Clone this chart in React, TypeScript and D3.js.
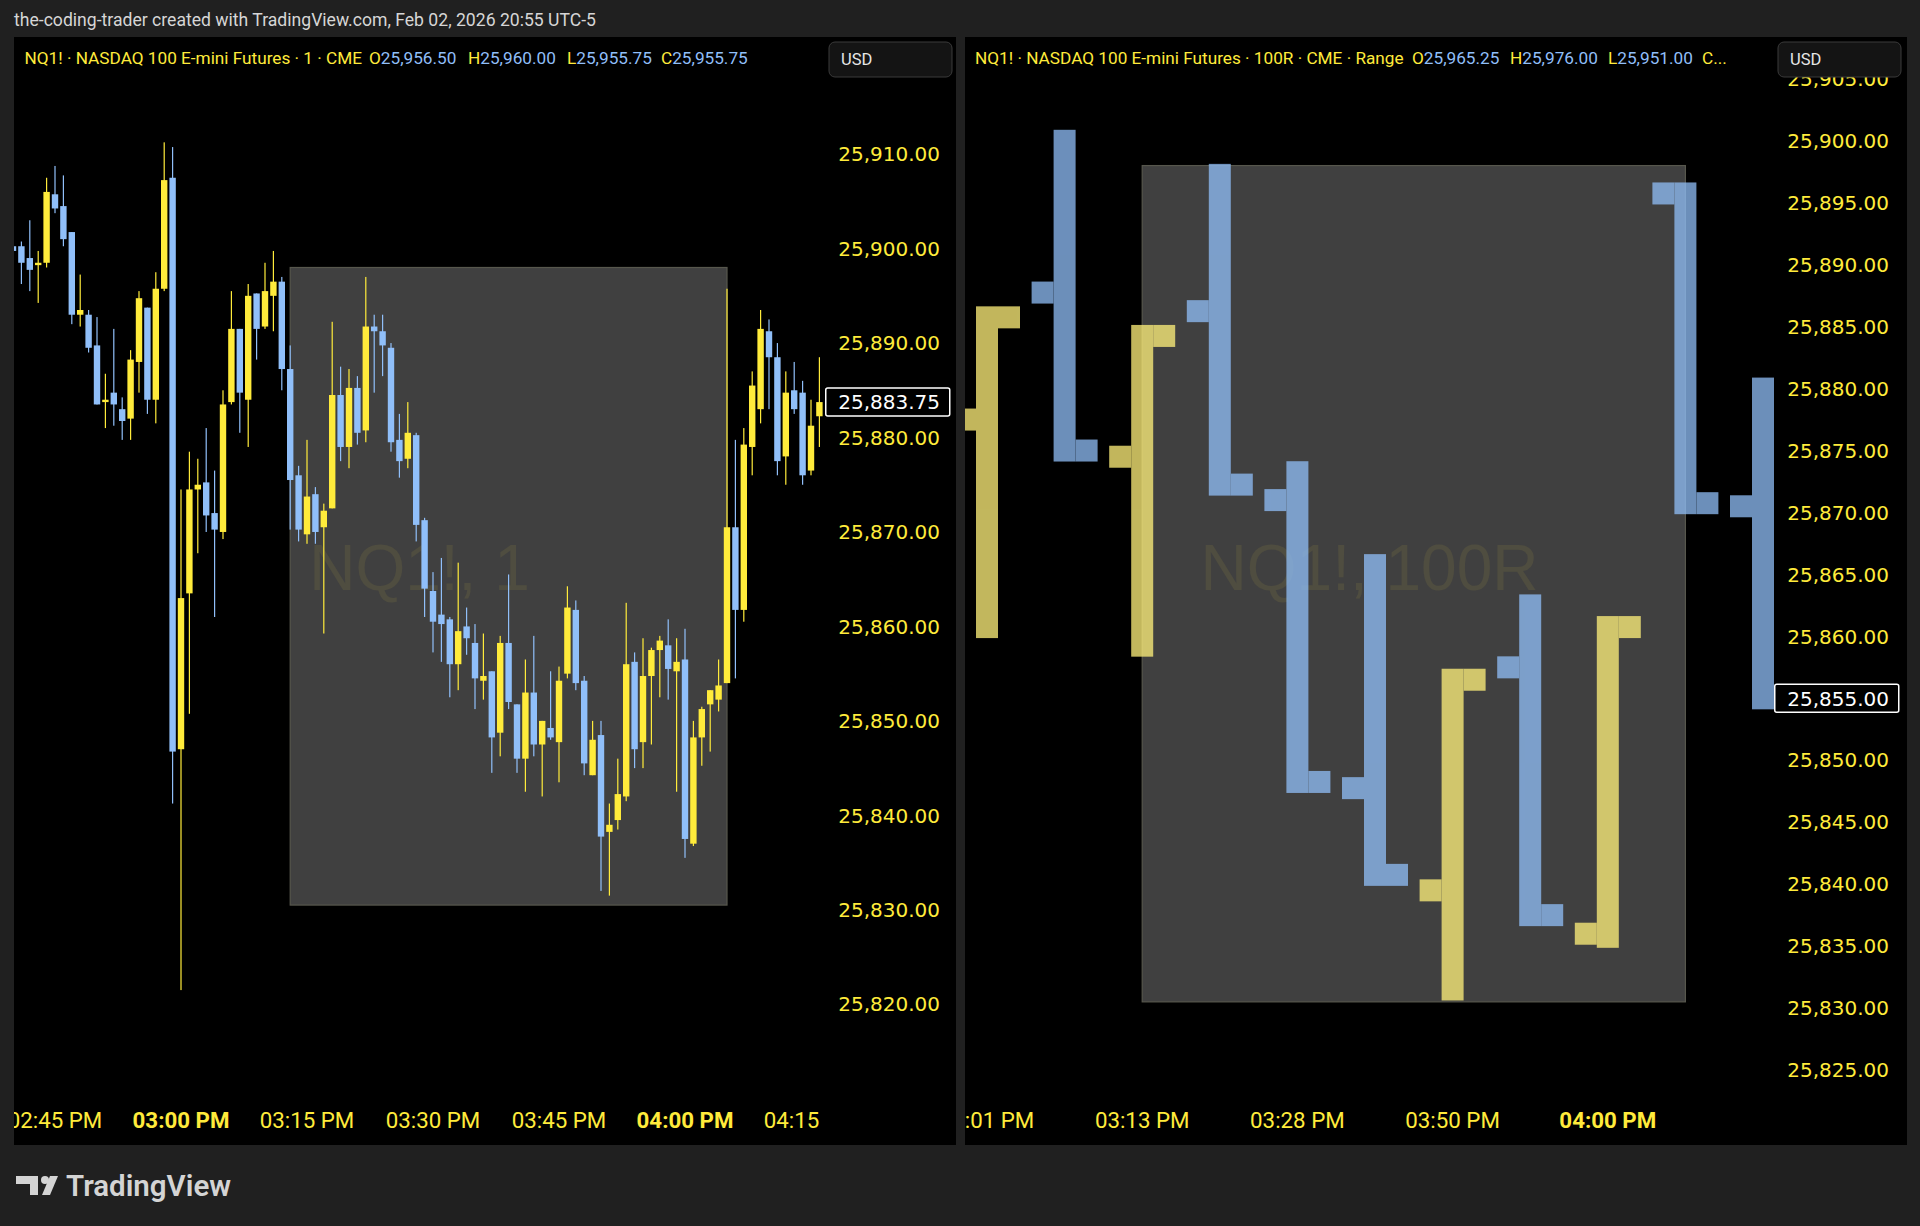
import React from 'react';
import * as d3 from 'd3';

// ---------------- DATA ----------------
// Left chart: 1-minute candles, minute offsets relative to 03:00 PM
const leftStartMinute = -20;
const leftOpen = [25900.25,25900.25,25899,25898.25,25898.5,25905.75,25904.5,25901.75,25893,25893,25889.75,25883.75,25884.75,25883,25882,25888,25893.75,25884,25895.75,25907.5,
  25847,25863.5,25874.5,25875.25,25872,25870,25883.75,25891.5,25884,25895.25,25891.75,25895,25896.5,25887.25,25876,25869.75,25874,25870.5,25872.5,25884.5,
  25879,25885.25,25880.75,25891.75,25891.25,25889.5,25879.75,25877.75,25880.25,25871.25,25863.75,25861.25,25860.75,25856,25860,25858.25,25854.25,25855.25,25848.75,25858.25,
  25851.75,25846,25853,25847.5,25849.25,25847.75,25855,25861.75,25854.25,25844.25,25848.5,25838.25,25839.5,25842,25856.25,25847.75,25854.75,25857.5,25858,25855.25,
  25856.5,25837,25848.25,25851.75,25852.25,25854,25870.5,25861.75,25879,25883,25891.25,25888.5,25878,25885,25884.75,25876.5,25882.25];
const leftHigh = [25902.5,25900.75,25903,25899.75,25907.5,25908.75,25907.75,25901.75,25897.25,25893.5,25892.75,25886.75,25891.5,25884.25,25889.25,25895.5,25893.75,25897.5,25911.25,25910.75,
  25874.5,25878.5,25877.75,25881,25876.5,25885,25895.5,25891.5,25896.25,25895.25,25898.5,25899.75,25897,25889.75,25877,25879.75,25874.75,25873,25892.25,25887.5,
  25887.25,25886.5,25897,25893,25893,25890,25882.5,25883.75,25880.5,25871.5,25865.75,25867.25,25861,25866.75,25862,25860.25,25859.25,25855.25,25859,25865.5,
  25851.75,25856.5,25859,25850,25855.25,25855.75,25864.25,25862.75,25854.75,25850,25850,25841.25,25846,25862.5,25857.25,25858.75,25857.75,25859,25860.75,25858.75,
  25859.75,25850,25851.5,25853.25,25856.5,25895.75,25879.75,25881,25887,25893.5,25892.5,25890,25887,25888,25886,25884,25888.5];
const leftLow = [25894.25,25896.25,25895.5,25894.25,25898,25903.75,25900.25,25892,25891.75,25889,25883.5,25881,25881.25,25879.75,25879.75,25884.75,25882.5,25881.5,25895.5,25841.25,
  25821.5,25850.75,25867.75,25870,25861,25869.25,25883.5,25880.5,25879,25888.25,25891.5,25891.25,25885,25870.25,25869,25868.75,25868.75,25859.25,25872.5,25877.5,
  25876.75,25879.25,25879.5,25884.75,25886.5,25878.5,25875.75,25876.75,25869,25861,25857.25,25856.25,25852.5,25853.25,25857,25851.25,25852.25,25844.5,25846.25,25851.25,
  25844.5,25842.5,25846.25,25842,25848,25843.5,25854.5,25853.25,25844.25,25844.25,25832,25831.5,25838.5,25841.5,25845,25845,25847.5,25852.5,25852.25,25842.5,
  25835.5,25836.75,25845.25,25846.75,25851,25854,25854.5,25860.5,25876,25881.5,25883,25876,25875,25882.5,25875,25876,25879];
const leftClose = [25899.75,25898.5,25897.75,25898.5,25906,25904.25,25901,25893,25893.5,25889.5,25883.5,25884,25883.5,25881.75,25888.25,25894.75,25884,25895.75,25907.25,25846.75,
  25863,25874.5,25875,25871.75,25870.25,25883.5,25891.5,25884.75,25895,25891.5,25895.5,25896.5,25887.25,25875.5,25870.25,25873.75,25870,25872.25,25884.5,25879,
  25885.25,25880.5,25891.75,25891.25,25889.75,25879.5,25877.5,25880.5,25870.75,25864,25860.5,25860.25,25856,25859.5,25858.75,25854.5,25854.75,25848.25,25858.25,25852,
  25846,25853,25847.5,25850,25848.25,25854.25,25862,25854,25845.5,25848,25837.75,25839,25842.25,25856,25847,25854.75,25857.5,25858.5,25855.5,25856.25,
  25837.5,25848.25,25851.25,25853.25,25853.75,25870.5,25861.75,25879.25,25885.5,25891.5,25888.5,25877.5,25884.75,25883,25876,25881.25,25883.75];
const leftPriceTicks = [25910, 25900, 25890, 25880, 25870, 25860, 25850, 25840, 25830, 25820];
const leftTimeTicks = [-15, 0, 15, 30, 45, 60, 75];
const leftTimeLabels = ['02:45 PM', '03:00 PM', '03:15 PM', '03:30 PM', '03:45 PM', '04:00 PM', '04:15 PM'];
const leftTimeBold = [false, true, false, false, false, true, false];
const leftLastPrice = 25883.75;
const leftBoxMinutes = [13, 65];

// Right chart: 100R range bars
const rangeOpen = [25877.5, 25887.75, 25874.5, 25886.25, 25871, 25847.75, 25839.5, 25857.5, 25836, 25895.75, 25870.5];
const rangeHigh = [25885.75, 25900, 25884.25, 25897.25, 25873.25, 25865.75, 25856.5, 25862.5, 25860.75, 25895.75, 25880];
const rangeLow = [25860.75, 25875, 25859.25, 25872.25, 25848.25, 25840.75, 25831.5, 25837.5, 25835.75, 25870.75, 25855];
const rangeClose = [25885.75, 25875, 25884.25, 25872.25, 25848.25, 25840.75, 25856.5, 25837.5, 25860.75, 25870.75, 25855];
const rightPriceTicks = [25905, 25900, 25895, 25890, 25885, 25880, 25875, 25870, 25865, 25860, 25855, 25850, 25845, 25840, 25835, 25830, 25825];
const rightTimeTicks = [0, 2, 4, 6, 8];
const rightTimeLabels = ['03:01 PM', '03:13 PM', '03:28 PM', '03:50 PM', '04:00 PM'];
const rightTimeBold = [false, false, false, false, true];
const rightLastPrice = 25855.0;
const rightBoxBars = [2, 9];

// Shared drawing (rectangle) price range
const boxPrices = [25898, 25830.5];

// ---------------- STYLE ----------------
const BG = '#202020';
const YELLOW = '#ffeb3b';
const BLUE = '#90bff9';
const RANGE_YELLOW = '#fff07a';
const UI_FONT = 'Roboto, "Noto Sans", sans-serif';
const AXIS_FONT = '"DejaVu Sans", sans-serif';
const fmt = d3.format(',.2f');

const PANEL_TOP = 37;
const PANEL_BOTTOM = 1145;
const PLOT_BOTTOM = 1092;
const L = { x0: 14, plotRight: 825, x1: 956 };
const R = { x0: 965, plotRight: 1774, x1: 1907 };

function UsdButton({ x }: { x: number }) {
  return (
    <g>
      <rect x={x} y={42} width={123} height={35} rx={6} fill="#141414" stroke="#3a3a3a" strokeWidth={1} />
      <text x={x + 12} y={64.5} fontFamily={UI_FONT} fontSize={16.5} fill="#e6e6e6">USD</text>
    </g>
  );
}

function LastPriceBox({ x, y, value, textRight }: { x: number; y: number; value: number; textRight: number }) {
  return (
    <g>
      <rect x={x + 0.75} y={y - 14} width={124} height={28} rx={2} fill="#000" stroke="#ffffff" strokeWidth={1.5} />
      <text x={textRight} y={y} dy="0.36em" textAnchor="end" fontFamily={AXIS_FONT} fontSize={20} fill="#ffffff">{fmt(value)}</text>
    </g>
  );
}

export default function App() {
  const yL = d3.scaleLinear().domain([25900, 25830]).range([248.6, 909.8]);
  const xL = d3.scaleLinear().domain([0, 60]).range([181, 685]);
  const yR = d3.scaleLinear().domain([25900, 25825]).range([140.8, 1070]);
  const xR = d3.scaleLinear().domain([0, 8]).range([987, 1607.8]);

  const candleW = 6.4;
  const t = 22; // range bar thickness

  const leftCandles = leftOpen.map((o, k) => ({
    m: leftStartMinute + k, o, h: leftHigh[k], l: leftLow[k], c: leftClose[k],
  }));
  const rangeBars = rangeOpen.map((o, k) => ({
    k, o, h: rangeHigh[k], l: rangeLow[k], c: rangeClose[k],
  }));

  const HF = 17.2; // header font size

  return (
    <svg width={1920} height={1226} viewBox="0 0 1920 1226"
      style={{ position: 'absolute', left: 0, top: 0, display: 'block' }}>
      <defs>
        <clipPath id="clipL"><rect x={L.x0} y={PANEL_TOP} width={L.plotRight - L.x0} height={PLOT_BOTTOM - PANEL_TOP} /></clipPath>
        <clipPath id="clipLT"><rect x={L.x0} y={PLOT_BOTTOM} width={L.plotRight - L.x0} height={PANEL_BOTTOM - PLOT_BOTTOM} /></clipPath>
        <clipPath id="clipR"><rect x={R.x0} y={PANEL_TOP} width={R.plotRight - R.x0} height={PLOT_BOTTOM - PANEL_TOP} /></clipPath>
        <clipPath id="clipRT"><rect x={R.x0} y={PLOT_BOTTOM} width={R.plotRight - R.x0} height={PANEL_BOTTOM - PLOT_BOTTOM} /></clipPath>
        <clipPath id="clipRA"><rect x={R.plotRight} y={PANEL_TOP} width={R.x1 - R.plotRight} height={PLOT_BOTTOM - PANEL_TOP} /></clipPath>
      </defs>
      <rect x={0} y={0} width={1920} height={1226} fill={BG} />

      <text x={14} y={26} fontFamily={UI_FONT} fontSize={17.6} fill="#d6d6d6">
        the-coding-trader created with TradingView.com, Feb 02, 2026 20:55 UTC-5
      </text>

      {/* ---------- LEFT PANEL ---------- */}
      <rect x={L.x0} y={PANEL_TOP} width={L.x1 - L.x0} height={PANEL_BOTTOM - PANEL_TOP} fill="#000" />
      <g clipPath="url(#clipL)">
        <rect x={xL(leftBoxMinutes[0])} y={yL(boxPrices[0])}
          width={xL(leftBoxMinutes[1]) - xL(leftBoxMinutes[0])}
          height={yL(boxPrices[1]) - yL(boxPrices[0])}
          fill="#404040" stroke="#57574d" strokeWidth={1.2} />
        <text x={(L.x0 + L.plotRight) / 2} y={590} textAnchor="middle" fontFamily='"Liberation Sans", Arial, sans-serif'
          fontSize={64} fill={YELLOW} fillOpacity={0.08}>NQ1!, 1</text>
        {leftCandles.map((d) => {
          const cx = xL(d.m);
          const col = d.c >= d.o ? YELLOW : BLUE;
          const top = yL(Math.max(d.o, d.c));
          const bot = yL(Math.min(d.o, d.c));
          return (
            <g key={d.m}>
              <rect x={cx - 0.6} y={yL(d.h)} width={1.2} height={yL(d.l) - yL(d.h)} fill={col} />
              <rect x={cx - candleW / 2} y={top} width={candleW} height={Math.max(1.5, bot - top)} fill={col} />
            </g>
          );
        })}
      </g>
      {/* left price axis */}
      {leftPriceTicks.filter((p) => yL(p) > 70 && yL(p) < PLOT_BOTTOM - 12).map((p) => (
        <text key={p} x={940} y={yL(p)} dy="0.36em" textAnchor="end" fontFamily={AXIS_FONT} fontSize={20} fill={YELLOW}>{fmt(p)}</text>
      ))}
      <LastPriceBox x={L.plotRight} y={yL(leftLastPrice)} value={leftLastPrice} textRight={940} />
      {/* left time axis */}
      <g clipPath="url(#clipLT)">
        {leftTimeTicks.map((m, k) => (
          <text key={m} x={xL(m)} y={1128} textAnchor="middle" fontFamily={UI_FONT} fontSize={22.3}
            fontWeight={leftTimeBold[k] ? 700 : 400} fill={YELLOW}>{leftTimeLabels[k]}</text>
        ))}
      </g>
      {/* left header */}
      <g fontFamily={UI_FONT} fontSize={HF}>
        <text x={24.5} y={63.5} fill={YELLOW}>NQ1! · NASDAQ 100 E-mini Futures · 1 · CME</text>
        <text x={369} y={63.5}><tspan fill={YELLOW}>O</tspan><tspan fill={BLUE}>25,956.50</tspan></text>
        <text x={468} y={63.5}><tspan fill={YELLOW}>H</tspan><tspan fill={BLUE}>25,960.00</tspan></text>
        <text x={567} y={63.5}><tspan fill={YELLOW}>L</tspan><tspan fill={BLUE}>25,955.75</tspan></text>
        <text x={661} y={63.5}><tspan fill={YELLOW}>C</tspan><tspan fill={BLUE}>25,955.75</tspan></text>
      </g>
      <UsdButton x={829} />

      {/* ---------- RIGHT PANEL ---------- */}
      <rect x={R.x0} y={PANEL_TOP} width={R.x1 - R.x0} height={PANEL_BOTTOM - PANEL_TOP} fill="#000" />
      <g clipPath="url(#clipR)">
        <rect x={xR(rightBoxBars[0])} y={yR(boxPrices[0])}
          width={xR(rightBoxBars[1]) - xR(rightBoxBars[0])}
          height={yR(boxPrices[1]) - yR(boxPrices[0])}
          fill="#404040" stroke="#57574d" strokeWidth={1.2} />
        <text x={(R.x0 + R.plotRight) / 2} y={590} textAnchor="middle" fontFamily='"Liberation Sans", Arial, sans-serif'
          fontSize={64} fill={YELLOW} fillOpacity={0.08}>NQ1!, 100R</text>
        {rangeBars.map((d) => {
          const cx = xR(d.k);
          const up = d.c >= d.o;
          const col = up ? RANGE_YELLOW : BLUE;
          return (
            <g key={d.k} opacity={up ? 0.76 : 0.75} fill={col}>
              <rect x={cx - t / 2} y={yR(d.h) - t / 2} width={t} height={yR(d.l) - yR(d.h) + t} />
              <rect x={cx - t / 2 - t} y={yR(d.o) - t / 2} width={t} height={t} />
              <rect x={cx + t / 2} y={yR(d.c) - t / 2} width={t} height={t} />
            </g>
          );
        })}
      </g>
      <g clipPath="url(#clipRA)">
        {rightPriceTicks.filter((p) => yR(p) < PLOT_BOTTOM - 12).map((p) => (
          <text key={p} x={1889} y={yR(p)} dy="0.36em" textAnchor="end" fontFamily={AXIS_FONT} fontSize={20} fill={YELLOW}>{fmt(p)}</text>
        ))}
      </g>
      <LastPriceBox x={R.plotRight} y={yR(rightLastPrice)} value={rightLastPrice} textRight={1889} />
      <g clipPath="url(#clipRT)">
        {rightTimeTicks.map((k, j) => (
          <text key={k} x={xR(k)} y={1128} textAnchor="middle" fontFamily={UI_FONT} fontSize={22.3}
            fontWeight={rightTimeBold[j] ? 700 : 400} fill={YELLOW}>{rightTimeLabels[j]}</text>
        ))}
      </g>
      <g fontFamily={UI_FONT} fontSize={HF}>
        <text x={975} y={63.5} fill={YELLOW}>NQ1! · NASDAQ 100 E-mini Futures · 100R · CME · Range</text>
        <text x={1412} y={63.5}><tspan fill={YELLOW}>O</tspan><tspan fill={BLUE}>25,965.25</tspan></text>
        <text x={1510} y={63.5}><tspan fill={YELLOW}>H</tspan><tspan fill={BLUE}>25,976.00</tspan></text>
        <text x={1608} y={63.5}><tspan fill={YELLOW}>L</tspan><tspan fill={BLUE}>25,951.00</tspan></text>
        <text x={1702} y={63.5} fill={YELLOW}>C...</text>
      </g>
      <UsdButton x={1778} />

      {/* ---------- FOOTER LOGO ---------- */}
      <g fill="#d4d4d4">
        <path d="M16 1176 H38 V1195 H30 V1184 H16 Z" />
        <circle cx={45} cy={1180} r={4} />
        <path d="M50 1176 H58 L50 1195 H42 Z" />
        <text x={66} y={1196} fontFamily={UI_FONT} fontSize={29.5} fontWeight={600}>TradingView</text>
      </g>
    </svg>
  );
}
